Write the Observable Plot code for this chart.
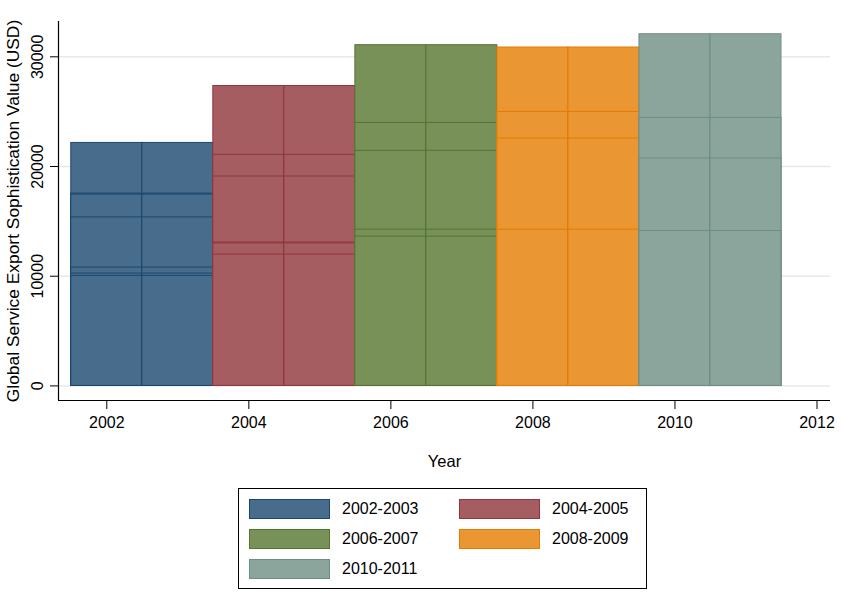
<!DOCTYPE html>
<html>
<head>
<meta charset="utf-8">
<script src="https://cdn.jsdelivr.net/npm/d3@7"></script>
<script src="https://cdn.jsdelivr.net/npm/@observablehq/plot@0.6"></script>
<style>
  html, body { margin: 0; padding: 0; background: #fff; }
  #wrap { position: relative; width: 843px; height: 600px; font-family: "Liberation Sans", Arial, sans-serif; }
  #legend { position: absolute; left: 238px; top: 488px; width: 407px; height: 99px; border: 1px solid #000; box-sizing: content-box; }
  .item { position: absolute; display: flex; align-items: center; height: 20px; font-size: 16px; color: #000; }
  .sw { width: 79px; height: 18px; border: 1px solid; margin-right: 12px; }
  #chart svg g[aria-label="y-axis label"] text { font-size: 17.4px; }
  #chart svg g[aria-label="x-axis label"] text { font-size: 16.5px; }
</style>
</head>
<body>
<div id="wrap"><div id="chart"></div><div id="legend"></div></div>
<script>
const periods = ["2002-2003", "2004-2005", "2006-2007", "2008-2009", "2010-2011"];
const periodStartYears = [2002, 2004, 2006, 2008, 2010];
const fillColors = ["#486c8c", "#a65d62", "#779159", "#e99633", "#8ba59d"];
const strokeColors = ["#1a476f", "#90353b", "#55752f", "#e37c00", "#6e8e84"];

const values2002_2003 = [22150, 17530, 17440, 15360, 10790, 10240, 10030];
const values2004_2005 = [27340, 21060, 19090, 13070, 12990, 11970];
const values2006_2007 = [31060, 23970, 21430, 14240, 13610];
const values2008_2009 = [30850, 24970, 22550, 14240];
const values2010_2011 = [32060, 24430, 20730, 14120];
const periodValues = [values2002_2003, values2004_2005, values2006_2007, values2008_2009, values2010_2011];

const xTicks = [2002, 2004, 2006, 2008, 2010, 2012];
const yTicks = [0, 10000, 20000, 30000];
const xDomain = [2001.32, 2012.19];
const yDomain = [-1330, 33220];

const rows = [];
periods.forEach((p, i) => {
  [periodStartYears[i], periodStartYears[i] + 1].forEach(year => {
    [...periodValues[i]].sort((a, b) => b - a).forEach(value => {
      rows.push({year, value, period: p, fill: fillColors[i], stroke: strokeColors[i]});
    });
  });
});

const chart = Plot.plot({
  width: 843,
  height: 478,
  marginLeft: 58,
  marginRight: 13,
  marginTop: 21,
  marginBottom: 78,
  style: {fontFamily: "'Liberation Sans', Arial, sans-serif", fontSize: "16px", color: "#000", background: "#fff"},
  x: {domain: xDomain},
  y: {domain: yDomain},
  color: {type: "identity"},
  marks: [
    Plot.gridY(yTicks, {stroke: "#e8e8e8", strokeOpacity: 1, strokeWidth: 1.5}),
    Plot.rect(rows, {
      x1: d => d.year - 0.5,
      x2: d => d.year + 0.5,
      y1: 0,
      y2: "value",
      fill: "fill",
      stroke: "stroke",
      strokeWidth: 1
    }),
    Plot.ruleY([yDomain[0]], {stroke: "#000", strokeWidth: 1.2}),
    Plot.ruleX([xDomain[0]], {stroke: "#000", strokeWidth: 1.2}),
    Plot.axisX(xTicks, {
      tickSize: 9,
      tickPadding: 7,
      tickFormat: d => String(d),
      fontSize: 16,
      label: "Year",
      labelAnchor: "center",
      labelArrow: "none",
      labelOffset: 66
    }),
    Plot.axisY(yTicks, {
      tickSize: 8,
      tickPadding: 8,
      tickRotate: -90,
      tickFormat: d => String(d),
      fontSize: 16,
      label: "Global Service Export Sophistication Value (USD)",
      labelAnchor: "center",
      labelArrow: "none",
      labelOffset: 52
    })
  ]
});
document.getElementById("chart").appendChild(chart);

const legend = document.getElementById("legend");
const colLeft = [10, 220];
periods.forEach((p, i) => {
  const item = document.createElement("div");
  item.className = "item";
  item.style.left = colLeft[i % 2] + "px";
  item.style.top = (10 + Math.floor(i / 2) * 30) + "px";
  const sw = document.createElement("div");
  sw.className = "sw";
  sw.style.background = fillColors[i];
  sw.style.borderColor = strokeColors[i];
  const label = document.createElement("span");
  label.textContent = p;
  item.appendChild(sw);
  item.appendChild(label);
  legend.appendChild(item);
});
</script>
</body>
</html>
